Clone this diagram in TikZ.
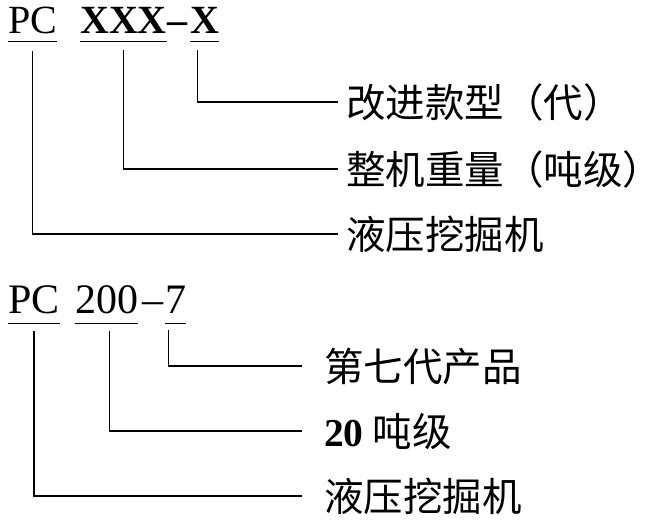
\documentclass[tikz,border=0pt]{standalone}
\usepackage{fontspec}
\setmainfont{Liberation Serif}
\newfontfamily\cjkfont{Noto Sans CJK SC}
\begin{document}
\begin{tikzpicture}[
 x=1pt,y=-1pt,
 code/.style={inner sep=0pt,anchor=base west,font=\fontsize{40}{40}\selectfont},
 codeb/.style={code,font=\fontsize{40}{40}\selectfont\bfseries},
 lbl/.style={anchor=west,inner sep=0pt,text height=30pt,text depth=0pt,
   font=\cjkfont\fontsize{39.5}{40}\selectfont},
 uline/.style={line width=0.9pt},
 link/.style={line width=1.5pt}
]
\useasboundingbox (0,0) rectangle (662,520);
% model code, general form
\node[code] (pcA) at (8,33) {PC};
\node[codeb] (xxx) at (80,33) {XXX};
\node[codeb,anchor=base] (dashA) at (177,33) {--};
\node[codeb] (xA) at (190,33) {X};
\node[lbl] (genA) at (346,102) {改进款型（代）};
\node[lbl] (tonA) at (346,169) {整机重量（吨级）};
\node[lbl] (excA) at (346,234) {液压挖掘机};
\foreach \n in {pcA,xxx,xA}
  \draw[uline] ([yshift=-8pt]\n.south west) -- ([yshift=-8pt]\n.south east);
\draw[link] ([xshift=-7pt,yshift=-17pt]xA.south) |- ([xshift=-8pt]genA.west);
\draw[link] ([yshift=-17pt]xxx.south) |- ([xshift=-8pt]tonA.west);
\draw[link] ([yshift=-17pt]pcA.south) |- ([xshift=-8pt]excA.west);
% example PC200-7
\node[code,font=\fontsize{42}{42}\selectfont] (pcB) at (8,313) {PC};
\node[code,font=\fontsize{42}{42}\selectfont] (wgt) at (75,313) {200};
\node[code,font=\fontsize{42}{42}\selectfont,anchor=base] (dashB) at (153,313) {--};
\node[code,font=\fontsize{42}{42}\selectfont] (genno) at (165,313) {7};
\node[lbl] (genB) at (324,366) {第七代产品};
\node[lbl] (tonB) at (324,431) {{\rmfamily\bfseries 20} 吨级};
\node[lbl] (excB) at (324,496) {液压挖掘机};
\foreach \n in {pcB,wgt,genno}
  \draw[uline] ([yshift=-10pt]\n.south west) -- ([yshift=-10pt]\n.south east);
\draw[link] ([xshift=-7pt,yshift=-17pt]genno.south) |- ([xshift=-22pt]genB.west);
\draw[link] ([xshift=3pt,yshift=-17pt]wgt.south) |- ([xshift=-22pt]tonB.west);
\draw[link] ([yshift=-17pt]pcB.south) |- ([xshift=-22pt]excB.west);
\end{tikzpicture}
\end{document}
